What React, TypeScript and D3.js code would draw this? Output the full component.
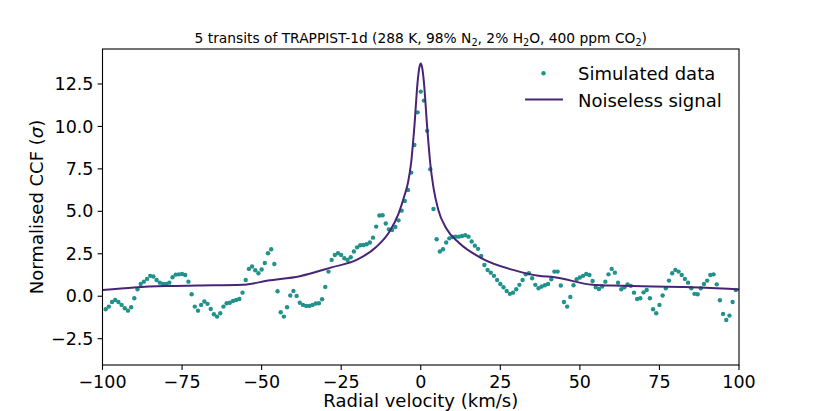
import * as d3 from "d3"

// simulated CCF, one point per km/s from -99 to 99
const simVelocity = d3.range(-99, 100, 1)
const simCcf = [
  // -99 .. -67
  -0.77, -0.61, -0.34, -0.22, -0.34, -0.51, -0.71, -0.85, -0.65, -0.12, 0.41, 0.72, 0.86, 1.02, 1.2, 1.16, 0.96,
  0.8, 0.72, 0.72, 0.8, 1.12, 1.27, 1.29, 1.31, 1.25, 0.86, 0.12, -0.61, -0.85, -0.51, -0.31, -0.45,
  // -66 .. -34
  -0.75, -1.06, -1.2, -1.0, -0.61, -0.41, -0.38, -0.28, -0.22, -0.16, 0.21, 0.96, 1.61, 1.75, 1.53, 1.35, 1.57,
  1.96, 2.53, 2.77, 1.9, 0.29, -0.94, -1.2, -0.65, 0.04, 0.31, 0.02, -0.38, -0.51, -0.57, -0.57, -0.51,
  // -33 .. -1
  -0.43, -0.41, -0.18, 0.55, 1.45, 2.14, 2.43, 2.53, 2.43, 2.24, 2.14, 2.3, 2.63, 2.88, 3.0, 3.02, 3.06, 3.16,
  3.45, 4.1, 4.75, 4.77, 4.28, 3.94, 3.9, 4.08, 4.47, 5.04, 5.61, 6.26, 7.28, 8.91, 10.83,
  // 0 .. 37
  12.05, 11.52, 9.74, 7.48, 5.14, 3.36, 2.63, 2.77, 3.16, 3.41, 3.49, 3.51, 3.51, 3.55, 3.59, 3.51, 3.22, 2.98,
  2.79, 2.37, 1.84, 1.55, 1.39, 1.2, 0.96, 0.72, 0.53, 0.31, 0.14, 0.21, 0.41, 0.67, 0.96, 1.29, 1.35, 1.06, 0.67,
  0.47,
  // 38 .. 99
  0.57, 0.65, 0.72, 1.0, 1.45, 1.45, 0.63, -0.34, -0.61, -0.04, 0.65, 1.0, 1.1, 1.2, 1.31, 1.25, 0.9, 0.53, 0.43,
  0.57, 0.86, 1.29, 1.61, 1.39, 0.8, 0.41, 0.53, 0.7, 0.61, 0.21, -0.16, -0.12, 0.23, 0.37, -0.12, -0.77, -1.0,
  -0.51, 0.04, 0.47, 0.92, 1.35, 1.55, 1.45, 1.25, 1.02, 0.8, 0.47, 0.14, 0.12, 0.47, 0.72, 0.92, 1.25, 1.29, 0.7,
  -0.24, -1.04, -1.4, -1.14, -0.34, 0.37,
]

// noiseless model
const signalVelocity = [
  -100, -90, -80, -70, -56, -48, -38, -28, -20, -14, -10, -7, -5, -4, -3, -2, -1, -0.5, 0, 0.5, 1, 2, 3, 4, 5.5, 8,
  12, 19, 29, 37, 42, 54, 60, 73, 83, 98, 100,
]
const signalCcf = [
  0.37, 0.52, 0.6, 0.63, 0.67, 0.92, 1.18, 1.7, 2.15, 2.9, 3.75, 4.85, 6.0, 6.7, 7.9, 10.0, 12.6, 13.4, 13.7, 13.4,
  12.6, 10.0, 7.8, 6.4, 5.1, 4.0, 3.15, 2.25, 1.55, 1.2, 1.12, 0.67, 0.63, 0.57, 0.55, 0.42, 0.4,
]

const xTicks = [-100, -75, -50, -25, 0, 25, 50, 75, 100]
const yTicks = [-2.5, 0, 2.5, 5, 7.5, 10, 12.5]

const dotColor = "#21918c"
const lineColor = "#482475"
const font = "DejaVu Sans, sans-serif"

export default function App() {
  const width = 822
  const height = 411
  const margin = { top: 49, right: 83, bottom: 46, left: 102.5 }

  const x = d3.scaleLinear().domain([-100, 100]).range([margin.left, width - margin.right])
  const y = d3.scaleLinear().domain([-4.05, 14.56]).range([height - margin.bottom, margin.top])

  const line = d3
    .line<number>()
    .x((d, i) => x(signalVelocity[i]))
    .y((d) => y(d))
    .curve(d3.curveMonotoneX)

  const fmt = (v: number) => (v < 0 ? "\u2212" : "") + Math.abs(v).toString()
  const fmtY = (v: number) => (v < 0 ? "\u2212" : "") + Math.abs(v).toFixed(1)

  const x0 = x.range()[0]
  const x1 = x.range()[1]
  const y0 = y.range()[0]
  const y1 = y.range()[1]

  return (
    <svg
      width={width}
      height={height}
      style={{ position: "absolute", left: 0, top: 0, background: "#fff" }}
      fontFamily={font}
    >
      <defs>
        <clipPath id="plot">
          <rect x={x0} y={y1} width={x1 - x0} height={y0 - y1} />
        </clipPath>
      </defs>

      {/* title */}
      <text x={(x0 + x1) / 2} y={43} textAnchor="middle" fontSize={13.8} fill="#000">
        5 transits of TRAPPIST-1d (288 K, 98% N
        <tspan fontSize={9.7} dy={3}>2</tspan>
        <tspan dy={-3}>, 2% H</tspan>
        <tspan fontSize={9.7} dy={3}>2</tspan>
        <tspan dy={-3}>O, 400 ppm CO</tspan>
        <tspan fontSize={9.7} dy={3}>2</tspan>
        <tspan dy={-3}>)</tspan>
      </text>

      <g clipPath="url(#plot)">
        {simCcf.map((v, i) => (
          <circle key={i} cx={x(simVelocity[i])} cy={y(v)} r={2.2} fill={dotColor} />
        ))}
        <path d={line(signalCcf) || ""} fill="none" stroke={lineColor} strokeWidth={2} />
      </g>

      {/* frame */}
      <rect x={x0} y={y1} width={x1 - x0} height={y0 - y1} fill="none" stroke="#000" strokeWidth={1.1} />

      {/* x axis */}
      {xTicks.map((t) => (
        <g key={t}>
          <line x1={x(t)} x2={x(t)} y1={y0} y2={y0 + 4.9} stroke="#000" strokeWidth={1.1} />
          <text x={x(t)} y={y0 + 22.5} textAnchor="middle" fontSize={17.5} fill="#000">
            {fmt(t)}
          </text>
        </g>
      ))}
      <text x={(x0 + x1) / 2} y={407} textAnchor="middle" fontSize={18} fill="#000">
        Radial velocity (km/s)
      </text>

      {/* y axis */}
      {yTicks.map((t) => (
        <g key={t}>
          <line x1={x0 - 4.9} x2={x0} y1={y(t)} y2={y(t)} stroke="#000" strokeWidth={1.1} />
          <text x={x0 - 9} y={y(t)} dy="0.35em" textAnchor="end" fontSize={17.5} fill="#000">
            {fmtY(t)}
          </text>
        </g>
      ))}
      <text
        transform={`translate(43,${(y0 + y1) / 2}) rotate(-90)`}
        textAnchor="middle"
        fontSize={18}
        fill="#000"
      >
        Normalised CCF (<tspan fontStyle="italic">σ</tspan>)
      </text>

      {/* legend */}
      <circle cx={543.5} cy={73.3} r={2.2} fill={dotColor} />
      <text x={578} y={80} fontSize={18} fill="#000">
        Simulated data
      </text>
      <line x1={525} x2={563} y1={99.5} y2={99.5} stroke={lineColor} strokeWidth={2} />
      <text x={578} y={106.5} fontSize={18} fill="#000">
        Noiseless signal
      </text>
    </svg>
  )
}
